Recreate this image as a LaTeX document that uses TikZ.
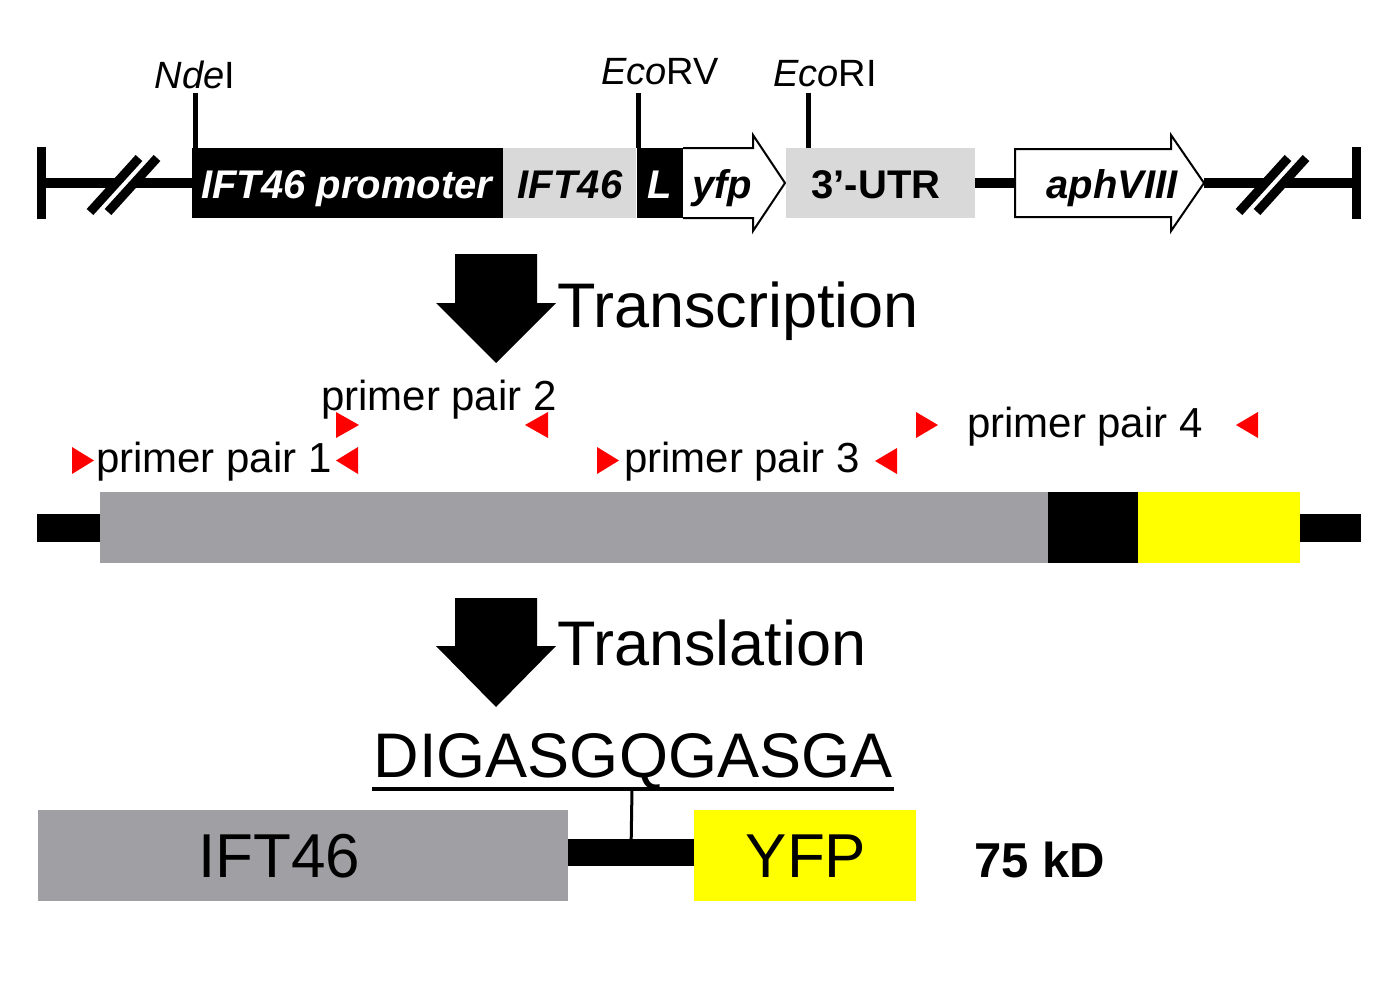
\documentclass[tikz,border=0pt]{standalone}
\usepackage{fontspec}
\setmainfont{Liberation Sans}
\usetikzlibrary{positioning}

\definecolor{lightbox}{RGB}{217,217,217}
\definecolor{darkbox}{RGB}{160,160,164}
\definecolor{yfpyellow}{RGB}{255,255,0}

\tikzset{
	every node/.style={inner sep=0pt, outer sep=0pt},
	site/.style={font=\fontsize{19}{20}\selectfont, anchor=base},
	gene/.style={font=\fontsize{20}{22}\selectfont\bfseries\itshape, anchor=base},
	biglabel/.style={font=\fontsize{31.5}{34}\selectfont, anchor=base west},
	primer/.style={font=\fontsize{21}{22}\selectfont, anchor=base west},
	backbone/.style={line width=5pt},
	tick/.style={line width=2.5pt},
	slash/.style={line width=4.5pt},
	endbar/.style={line width=4.5pt},
	genearrow/.style={draw, line width=1pt, fill=white}
}

\begin{document}
\begin{tikzpicture}[x=0.5pt, y=-0.5pt]
			\useasboundingbox (0, 0) rectangle (1388, 1001);
			
			% construct
			\draw[endbar] (41, 147) -- (41, 219);
			\draw[backbone] (41, 183) -- (116, 183);
			\draw[backbone] (134, 183) -- (192, 183);
			\draw[slash] (90, 212) -- (139, 158);
			\draw[slash] (108, 212) -- (157, 158);
			
			\fill (192, 148) rectangle (503, 218);
			\fill[lightbox] (503, 148) rectangle (636, 218);
			\fill (637, 148) rectangle (683, 218);
			\draw[genearrow] (683, 148) -- (753, 148) -- (753, 135) -- (785, 183) -- (753, 231) -- (753, 218) -- (683, 218);
			\fill[lightbox] (786, 148) rectangle (975, 218);
			\draw[backbone] (975, 183) -- (1015, 183);
			\draw[genearrow] (1015, 149) -- (1171, 149) -- (1171, 135) -- (1204, 183) -- (1171, 231) -- (1171, 217) -- (1015, 217) -- cycle;
			\draw[backbone] (1204, 183) -- (1265, 183);
			\draw[backbone] (1283, 183) -- (1356, 183);
			\draw[slash] (1239, 212) -- (1288, 158);
			\draw[slash] (1257, 212) -- (1306, 158);
			\draw[endbar] (1356, 147) -- (1356, 219);
			
			\node[gene, white] (4) at (347, 198) {IFT46 promoter};
			\node[gene] (5) at (570, 198) {IFT46};
			\node[gene, white] (6) at (660, 198) {L};
			\node[gene] (7) at (722, 198) {yfp};
			\node[gene, font=\fontsize{20}{22}\selectfont\bfseries] (8) at (876, 198) {3’-UTR};
			\node[gene] (9) at (1112, 198) {aphVIII};
			
			% sites
			\node[site] (1) at (195, 88) {\textit{Nde}I};
			\node[site] (2) at (660, 84) {\textit{Eco}RV};
			\node[site] (3) at (825, 86) {\textit{Eco}RI};
			\coordinate (1a) at (195, 93); \coordinate (1b) at (195, 148);
			\coordinate (2a) at (638, 93); \coordinate (2b) at (638, 148);
			\coordinate (3a) at (808, 93); \coordinate (3b) at (808, 148);
			\draw[tick] (1a) -- (1b);
			\draw[tick] (2a) -- (2b);
			\draw[tick] (3a) -- (3b);
			
			% transcription
			\fill (455, 254) -- (537, 254) -- (537, 303) -- (556, 303) -- (496, 363) -- (436, 303) -- (455, 303) -- cycle;
			\node[biglabel] (10) at (557, 327) {Transcription};
			
			% primers
			\node[primer] (11) at (321, 410) {primer pair 2};
			\node[primer] (12) at (96, 472) {primer pair 1};
			\node[primer] (13) at (624, 472) {primer pair 3};
			\node[primer] (14) at (967, 437) {primer pair 4};
			\fill[red] (336, 412) -- (359, 425) -- (336, 438) -- cycle;
			\fill[red] (548, 412) -- (525, 425) -- (548, 438) -- cycle;
			\fill[red] (72, 447) -- (94, 460.5) -- (72, 474) -- cycle;
			\fill[red] (358, 447) -- (336, 460.5) -- (358, 474) -- cycle;
			\fill[red] (597, 447) -- (619, 460.5) -- (597, 474) -- cycle;
			\fill[red] (897, 448) -- (875, 461) -- (897, 474) -- cycle;
			\fill[red] (916, 412) -- (938, 425) -- (916, 438) -- cycle;
			\fill[red] (1258, 412) -- (1236, 425) -- (1258, 438) -- cycle;
			
			% mRNA
			\fill (37, 514) rectangle (100, 542);
			\fill[darkbox] (100, 492) rectangle (1048, 563);
			\fill (1048, 492) rectangle (1138, 563);
			\fill[yfpyellow] (1138, 492) rectangle (1300, 563);
			\fill (1300, 514) rectangle (1361, 542);
			
			% translation
			\fill (455, 598) -- (537, 598) -- (537, 646) -- (556, 646) -- (496, 707) -- (436, 646) -- (455, 646) -- cycle;
			\node[biglabel] (15) at (557, 665) {Translation};
			
			% protein
			\node[font=\fontsize{31.5}{34}\selectfont, anchor=base] (16) at (633, 777) {DIGASGQGASGA};
			\draw[line width=2pt] (372, 789) -- (894, 789);
			\coordinate (17) at (632, 789);
			\fill[darkbox] (38, 810) rectangle (568, 901);
			\fill[yfpyellow] (694, 810) rectangle (916, 901);
			\node[fill=black, minimum width=63pt, minimum height=13.5pt] (21) at (631, 852.5) {};
			\draw[line width=1.5pt] (17) -- (21);
			\node[font=\fontsize{31}{34}\selectfont, anchor=base] (18) at (279, 877) {IFT46};
			\node[font=\fontsize{31}{34}\selectfont, anchor=base] (19) at (806, 877) {YFP};
			\node[font=\fontsize{24.5}{26}\selectfont\bfseries, anchor=base west] (20) at (974, 877) {75 kD};
		\end{tikzpicture}
\end{document}
